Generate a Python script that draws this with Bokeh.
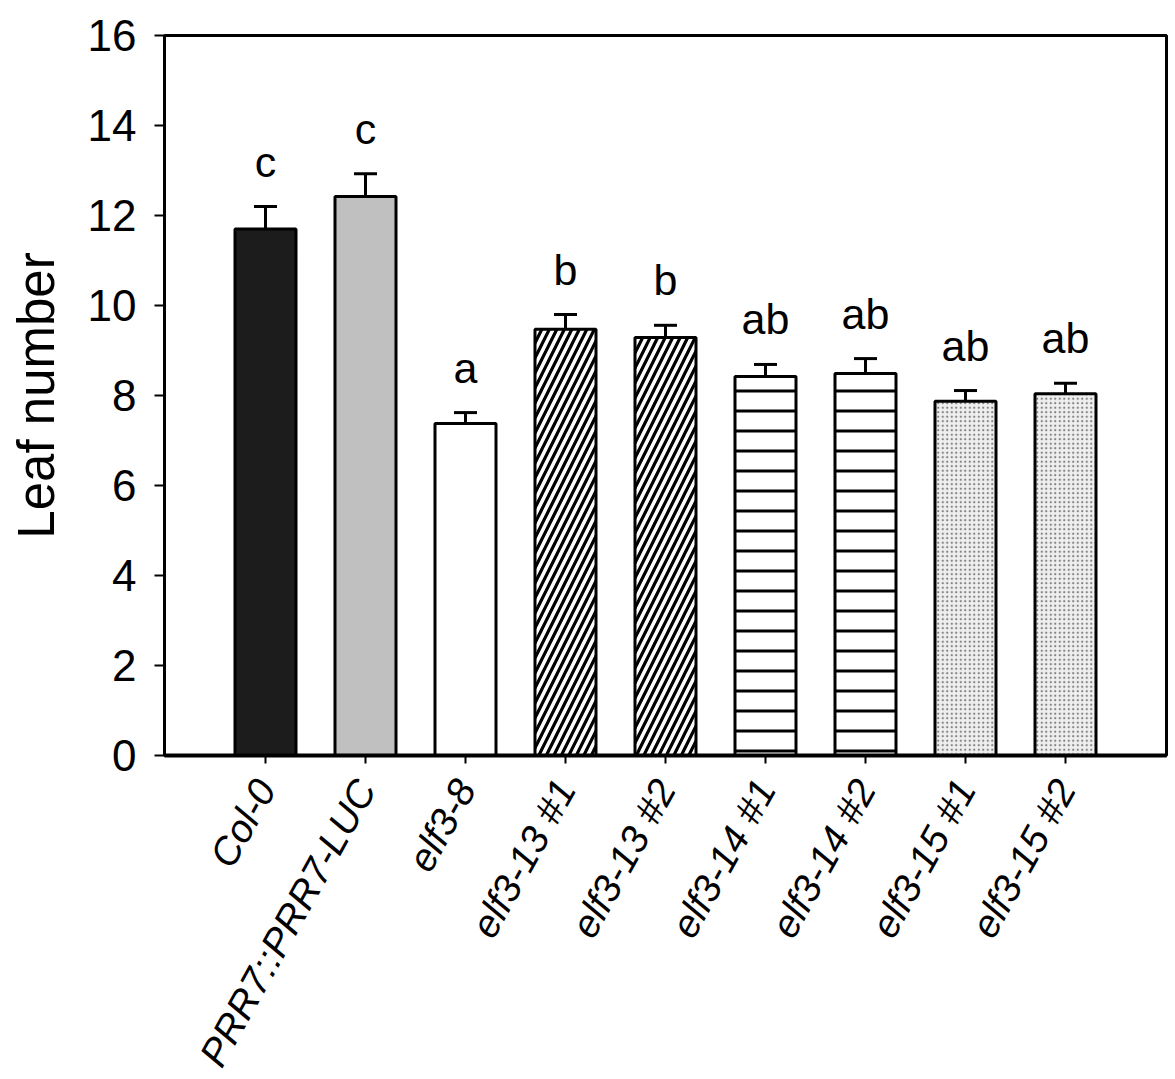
import math
from bokeh.plotting import figure
from bokeh.layouts import row
from bokeh.models import ColumnDataSource, FactorRange, Whisker, TeeHead, FixedTicker, Spacer
from bokeh.core.properties import value
from bokeh.embed import file_html
from bokeh.resources import INLINE

# ---- data ----
categories = ["Col-0", "PRR7::PRR7-LUC", "elf3-8", "elf3-13 #1", "elf3-13 #2",
              "elf3-14 #1", "elf3-14 #2", "elf3-15 #1", "elf3-15 #2"]
leaf_mean = [11.70, 12.42, 7.38, 9.47, 9.29, 8.42, 8.49, 7.87, 8.04]
leaf_se = [0.50, 0.51, 0.24, 0.33, 0.27, 0.27, 0.33, 0.24, 0.23]
letters = ["c", "c", "a", "b", "b", "ab", "ab", "ab", "ab"]
y_ticks = [0, 2, 4, 6, 8, 10, 12, 14, 16]

# ---- styles (one per bar) ----
fills = ["#1c1c1c", "#c0c0c0", "white", "white", "white", "white", "white", "#efefef", "#efefef"]
hatches = [" ", " ", " ", "/", "/", "-", "-", ".", "."]
hatch_cols = ["black", "black", "black", "black", "black", "black", "black", "#808080", "#808080"]
hatch_scales = [8, 8, 8, 15, 15, 20, 20, 4.5, 4.5]
hatch_weights = [1, 1, 1, 3.2, 3.2, 3, 3, 1.7, 1.7]

FONT = "Liberation Sans"

upper = [m + e for m, e in zip(leaf_mean, leaf_se)]
label_y = [u + 1.0 for u in upper]

src = ColumnDataSource(dict(cat=categories, mean=leaf_mean, upper=upper,
                            label=letters, ly=label_y, fill=fills, hatch=hatches,
                            hcol=hatch_cols, hscale=hatch_scales, hweight=hatch_weights))

p = figure(x_range=FactorRange(factors=categories, range_padding=0.51, range_padding_units="absolute"),
           y_range=(0, 16), frame_width=1002, frame_height=720,
           output_backend="svg", toolbar_location=None,
           min_border_left=100, min_border_top=35, min_border_right=5, min_border_bottom=315)

p.vbar(x="cat", top="mean", bottom=0, width=0.61, source=src,
       fill_color="fill", line_color="black", line_width=3,
       hatch_pattern="hatch", hatch_color="hcol", hatch_scale="hscale", hatch_weight="hweight")

p.add_layout(Whisker(source=src, base="cat", upper="upper", lower="mean", dimension="height",
                     line_color="black", line_width=3,
                     upper_head=TeeHead(size=23, line_width=3, line_color="black"),
                     lower_head=None))

p.text(x="cat", y="ly", text="label", source=src, text_align="center",
       text_baseline="alphabetic", text_font=value(FONT), text_font_size="43px",
       text_color="black")

# frame / outline
p.outline_line_color = "black"
p.outline_line_width = 3
p.xgrid.visible = False
p.ygrid.visible = False
p.background_fill_color = "white"
p.border_fill_color = "white"

# y axis
ya = p.yaxis[0]
ya.ticker = FixedTicker(ticks=y_ticks)
ya.axis_label = "Leaf number"
ya.axis_label_text_font = FONT
ya.axis_label_text_font_size = "51px"
ya.axis_label_text_font_style = "normal"
ya.axis_label_text_color = "black"
ya.axis_label_standoff = 20
ya.major_label_text_font = FONT
ya.major_label_text_font_size = "44px"
ya.major_label_text_color = "black"
ya.major_label_standoff = 18
ya.axis_line_width = 3
ya.major_tick_line_width = 2
ya.major_tick_out = 10
ya.major_tick_in = 0
ya.minor_tick_line_color = None

# x axis
xa = p.xaxis[0]
xa.major_label_orientation = math.radians(61)
xa.major_label_text_font = FONT
xa.major_label_text_font_size = "39px"
xa.major_label_text_font_style = "italic"
xa.major_label_text_color = "black"
xa.major_label_standoff = 19
xa.axis_line_width = 4
xa.major_tick_line_width = 2
xa.major_tick_out = 8
xa.major_tick_in = 0

layout = row(Spacer(width=4), p)
open("out.html", "w").write(file_html(layout, INLINE))
